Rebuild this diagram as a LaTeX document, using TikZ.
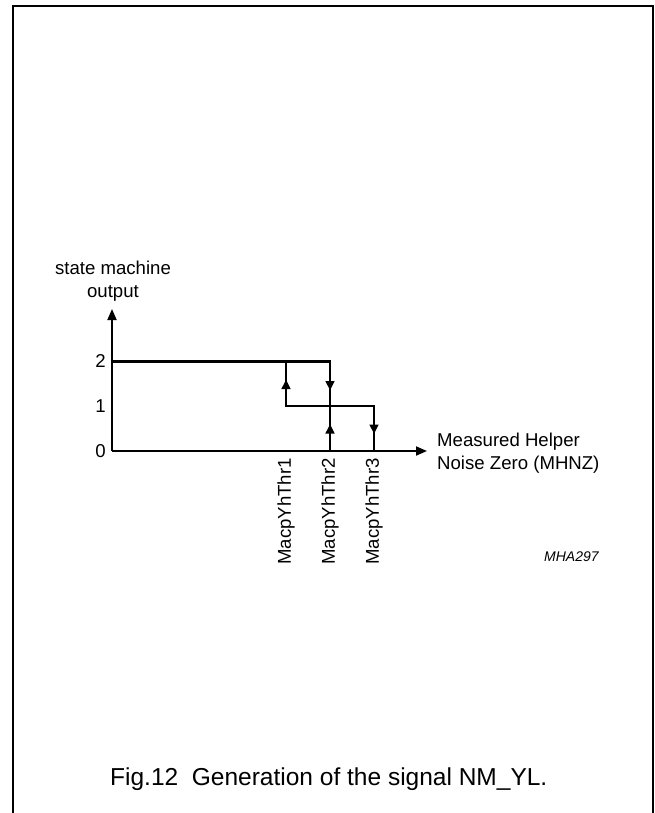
\documentclass[tikz,border=0pt]{standalone}
\usepackage{fontspec}
\setmainfont{Liberation Sans}
\usetikzlibrary{arrows.meta}
\begin{document}
\begin{tikzpicture}[x=1pt,y=-1pt,
  frame/.style={line width=1.5pt},
  axis/.style={line width=1.8pt,-{Triangle[length=11pt,width=9pt]}},
  curve/.style={line width=2.4pt},
  midarrow/.style={line width=2.4pt,-{Triangle[length=9.5pt,width=8.5pt]}},
  lbl/.style={inner sep=0pt,font=\fontsize{18.6}{22.6}\selectfont},
  thr/.style={lbl,rotate=90,anchor=east}]
\useasboundingbox (0,0) rectangle (654,813);
% frame
\coordinate (fbl) at (12.8,813);
\coordinate (ftl) at (12.8,5.8);
\coordinate (ftr) at (652.8,5.8);
\coordinate (fbr) at (652.8,813);
\draw[frame] (fbl) -- (ftl) -- (ftr) -- (fbr);
% key points
\coordinate (O) at (112,451);
\coordinate (ytip) at (112,309);
\coordinate (xtip) at (427,451);
\coordinate (L2a) at (112,361.5);
\coordinate (T1top) at (286,361.5);
\coordinate (T2top) at (330,361.5);
\coordinate (T1mid) at (286,406);
\coordinate (T2mid) at (330,406);
\coordinate (T3mid) at (374,406);
\coordinate (T2bot) at (330,451);
\coordinate (T3bot) at (374,451);
% axes
\draw[axis] (O) -- (ytip);
\draw[axis] (O) -- (xtip);
% hysteresis curve
\draw[curve] (L2a) -- (T2top) -- (T2bot);
\draw[curve] (T1top) -- (T1mid) -- (T3mid) -- (T3bot);
% direction arrows
\coordinate (a1s) at (286,392); \coordinate (a1e) at (286,379.5);
\coordinate (a2s) at (330,378); \coordinate (a2e) at (330,390.5);
\coordinate (a3s) at (330,437); \coordinate (a3e) at (330,424);
\coordinate (a4s) at (374,421); \coordinate (a4e) at (374,434);
\draw[midarrow] (a1s) -- (a1e);
\draw[midarrow] (a2s) -- (a2e);
\draw[midarrow] (a3s) -- (a3e);
\draw[midarrow] (a4s) -- (a4e);
% labels
\node[lbl,anchor=east] (l2) at (106,361.5) {2};
\node[lbl,anchor=east] (l1) at (106,406) {1};
\node[lbl,anchor=east] (l0) at (106,451) {0};
\node[lbl,align=center] (ylab) at (113,281) {state machine\\output};
\node[lbl,align=left,anchor=west] (xlab) at (437,453) {Measured Helper\\Noise Zero (MHNZ)};
\node[thr] (t1) at (286,458) {MacpYhThr1};
\node[thr] (t2) at (330,458) {MacpYhThr2};
\node[thr] (t3) at (374,458) {MacpYhThr3};
\node[inner sep=0pt,anchor=west,font=\fontsize{14}{16}\selectfont\itshape] (code) at (544,557) {MHA297};
\node[inner sep=0pt,anchor=base west,font=\fontsize{24.5}{28}\selectfont] (cap) at (110,785) {Fig.12\ \ Generation of the signal NM\_YL.};
\end{tikzpicture}
\end{document}
